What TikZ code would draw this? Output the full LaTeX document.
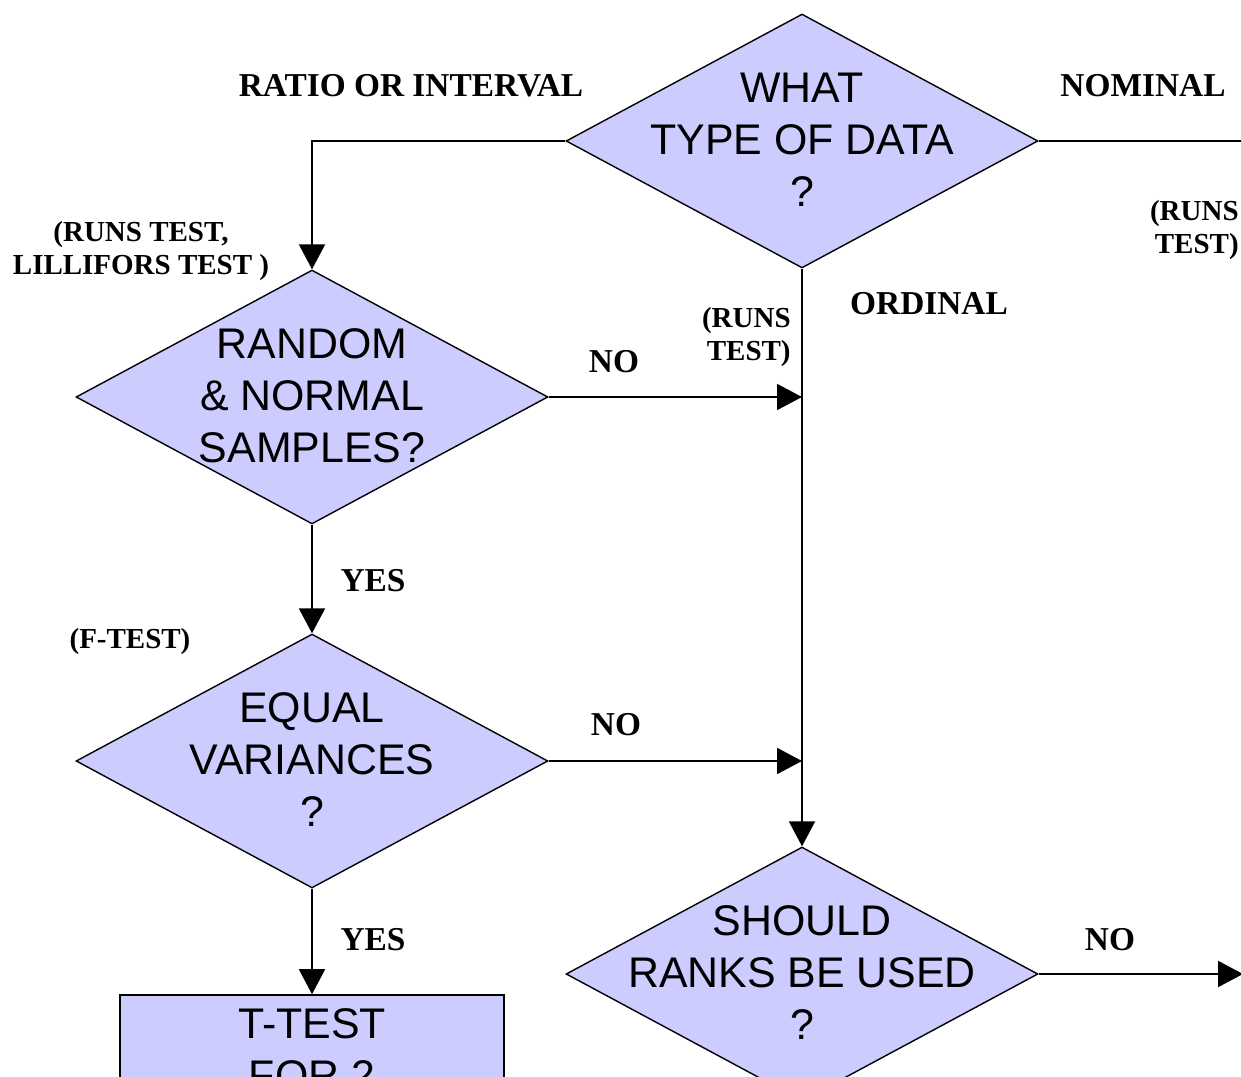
\documentclass[tikz,border=0pt]{standalone}
\usepackage{fontspec}
\setmainfont{Liberation Serif}
\newfontfamily\arialfont{Liberation Sans}
\usetikzlibrary{shapes.geometric,arrows.meta}

\definecolor{lav}{RGB}{204,204,255}

% centred multi-line text that takes no room, so the diamond keeps its set size
\newcommand\dtext[1]{\makebox[0pt]{\raisebox{\dimexpr0.5\depth-0.5\height-1.8pt\relax}[0pt][0pt]{%
  \begin{tabular}{@{}c@{}}#1\end{tabular}}}}

\tikzset{
  decision/.style={diamond, draw=black, line width=0.8pt, fill=lav,
    minimum width=9.44cm, minimum height=5.08cm, inner sep=0pt,
    font=\arialfont\fontsize{24.4}{29.5}\selectfont},
  procbox/.style={rectangle, draw=black, line width=0.9pt, fill=lav,
    minimum width=7.68cm, minimum height=2.2cm, inner sep=0pt, align=center,
    font=\arialfont\fontsize{24.4}{29.5}\selectfont},
  biglbl/.style={inner sep=0pt, font=\bfseries\fontsize{19}{22}\selectfont},
  smalllbl/.style={inner sep=0pt, font=\bfseries\fontsize{16.5}{18.8}\selectfont},
  wire/.style={line width=1.1pt, draw=black},
  conn/.style={wire, -{Triangle[length=0.5cm, width=0.52cm]}},
}

\begin{document}
\begin{tikzpicture}[x=0.02cm, y=-0.02cm]
\useasboundingbox (0,0) rectangle (1241,1077);
\clip (0,0) rectangle (1241,1077);

% decisions
\node[decision] (dtype)  at (802,141) {\dtext{WHAT\\TYPE OF DATA\\?}};
\node[decision] (drand)  at (312,397) {\dtext{RANDOM\\\& NORMAL\\SAMPLES?}};
\node[decision] (dvar)   at (312,761) {\dtext{EQUAL\\VARIANCES\\?}};
\node[decision] (dranks) at (802,974) {\dtext{SHOULD\\RANKS BE USED\\?}};
\node[procbox]  (ttest)  at (312,1050) {T-TEST\\FOR 2};

% junctions and free ends
\coordinate (jno1) at (802,397);
\coordinate (jno2) at (802,761);
\coordinate (nomend) at (1241,141);
\coordinate (rankend) at (1243,974);

% connectors
\draw[conn] (dtype.west) -| (drand.north);
\draw[wire] (dtype.east) -- (nomend);
\draw[conn] (dtype.south) -- (dranks.north);
\draw[conn] (drand.east) -- (jno1);
\draw[conn] (drand.south) -- (dvar.north);
\draw[conn] (dvar.east) -- (jno2);
\draw[conn] (dvar.south) -- (ttest.north);
\draw[conn] (dranks.east) -- (rankend);

% branch labels
\node[biglbl] (lratio) at (411,86) {RATIO OR INTERVAL};
\node[biglbl] (lnom) at (1143,86) {NOMINAL};
\node[biglbl] (lord) at (929,304) {ORDINAL};
\node[biglbl] (lno1) at (614,362) {NO};
\node[biglbl] (lyes1) at (373,581) {YES};
\node[biglbl] (lno2) at (616,725) {NO};
\node[biglbl] (lyes2) at (373,940) {YES};
\node[biglbl] (lno3) at (1110,940) {NO};

% test notes
\node[smalllbl, align=center] (truns) at (141,251) {(RUNS TEST,\\LILLIFORS TEST )};
\node[smalllbl, align=right, anchor=east] (nruns) at (1239,230) {(RUNS\\TEST)};
\node[smalllbl, align=right, anchor=east] (oruns) at (791,337) {(RUNS\\TEST)};
\node[smalllbl] (ftest) at (130,642) {(F-TEST)};
\end{tikzpicture}
\end{document}
